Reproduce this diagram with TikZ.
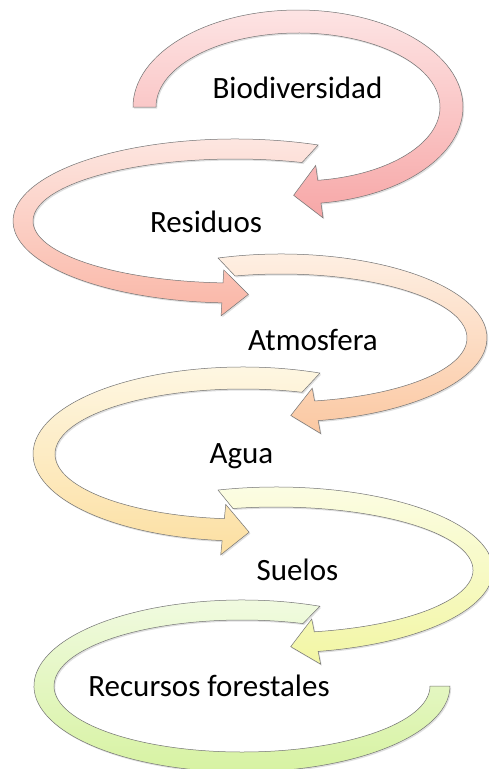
\documentclass[tikz,border=0pt]{standalone}
\usepackage{fontspec}
\setmainfont{Carlito}
\usetikzlibrary{calc,shadows}

\definecolor{bioTop}{HTML}{FDE4E4}
\definecolor{bioBot}{HTML}{F7A7A7}
\definecolor{resTop}{HTML}{FDE9E4}
\definecolor{resBot}{HTML}{FAB6A6}
\definecolor{atmTop}{HTML}{FEF1E6}
\definecolor{atmBot}{HTML}{FBC8A2}
\definecolor{aguTop}{HTML}{FEF8E6}
\definecolor{aguBot}{HTML}{FCDFA1}
\definecolor{sueTop}{HTML}{FCFDE6}
\definecolor{sueBot}{HTML}{F2F6A4}
\definecolor{recTop}{HTML}{F2FBE4}
\definecolor{recBot}{HTML}{D6F2A0}

% #1 style, #2 centre, #3/#4 outer radii, #5 band, #6/#7 tail angles, #8 head angle, #9 head turn
\newcommand{\ringarrow}[9]{%
  \pgfmathsetmacro\ia{#3-#5}\pgfmathsetmacro\ib{#4-#5}
  \coordinate (po) at ($(#2)+(#8:#3 and #4)$);
  \coordinate (pi) at ($(#2)+(#8:{\ia} and {\ib})$);
  \coordinate (pm) at ($(pi)!0.5!(po)$);
  \path[#1] ($(#2)+(#6:#3 and #4)$) arc[start angle=#6, end angle=#8, x radius=#3, y radius=#4]
    -- ($(po)!-0.65!(pi)$) -- ($(pm)!26pt!#9:(po)$) -- ($(pi)!-0.65!(po)$) -- (pi)
    arc[start angle=#8, end angle=#7, x radius=\ia, y radius=\ib] -- cycle;}

\begin{document}
\begin{tikzpicture}[x=1pt, y=-1pt,
  ring/.style={draw=black!55, line width=0.5pt,
    drop shadow={shadow xshift=1.2pt, shadow yshift=-1.5pt, opacity=0.25}},
  topic/.style={anchor=base, font=\fontsize{31}{36}\selectfont}]
  \useasboundingbox (0,0) rectangle (488,769);
  \fill[white] (0,0) rectangle (488,769);

  \coordinate (c1) at (298,107);
  \coordinate (c2) at (235,221);
  \coordinate (c3) at (281,338);
  \coordinate (c4) at (243,454);
  \coordinate (c5) at (276,570);
  \coordinate (c6) at (242,686);

  \ringarrow{ring, top color=bioTop, bottom color=bioBot}{c1}{165}{97}{23}{180}{180}{442}{-90}
  \ringarrow{ring, top color=resTop, bottom color=resBot}{c2}{222}{82}{20}{-68}{-70.6}{-266.6}{90}
  \ringarrow{ring, top color=atmTop, bottom color=atmBot}{c3}{206}{84}{20}{-107.8}{-104.3}{79.6}{-90}
  \ringarrow{ring, top color=aguTop, bottom color=aguBot}{c4}{210}{87}{22}{-68.5}{-71.7}{-264.3}{90}
  \ringarrow{ring, top color=sueTop, bottom color=sueBot}{c5}{217}{83}{20}{-105.5}{-102.6}{78.8}{-90}
  % last one ends flat
  \path[ring, top color=recTop, bottom color=recBot]
    ($(c6)+(-68:208 and 86)$) arc[start angle=-68, end angle=-360, x radius=208, y radius=86]
    -- ($(c6)+(-360:188 and 66)$) arc[start angle=-360, end angle=-71.1, x radius=188, y radius=66] -- cycle;

  \node[topic] (bio) at (297.5,98) {Biodiversidad};
  \node[topic] (res) at (206,232) {Residuos};
  \node[topic] (atm) at (313,350) {Atmosfera};
  \node[topic] (agu) at (241.5,463) {Agua};
  \node[topic] (sue) at (297.5,580) {Suelos};
  \node[topic] (rec) at (209,696) {Recursos forestales};
\end{tikzpicture}
\end{document}
